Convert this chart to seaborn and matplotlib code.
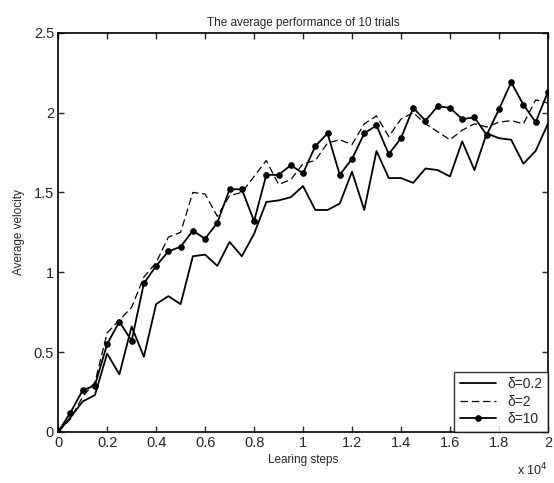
import numpy as np
import pandas as pd
import seaborn as sns
from matplotlib import pyplot as plt

# learning steps in units of 10^4
steps = [0.00, 0.05, 0.10, 0.15, 0.20, 0.25, 0.30, 0.35, 0.40, 0.45,
         0.50, 0.55, 0.60, 0.65, 0.70, 0.75, 0.80, 0.85, 0.90, 0.95,
         1.00, 1.05, 1.10, 1.15, 1.20, 1.25, 1.30, 1.35, 1.40, 1.45,
         1.50, 1.55, 1.60, 1.65, 1.70, 1.75, 1.80, 1.85, 1.90, 1.95, 2.00]

vel_d02 = [0.00, 0.09, 0.19, 0.23, 0.49, 0.36, 0.66, 0.47, 0.80, 0.85,
           0.80, 1.10, 1.11, 1.04, 1.19, 1.10, 1.24, 1.44, 1.45, 1.47,
           1.54, 1.39, 1.39, 1.43, 1.63, 1.39, 1.76, 1.59, 1.59, 1.56,
           1.65, 1.64, 1.60, 1.82, 1.64, 1.87, 1.84, 1.83, 1.68, 1.76, 1.93]

vel_d2 = [0.00, 0.08, 0.22, 0.31, 0.62, 0.70, 0.78, 0.97, 1.06, 1.22,
          1.25, 1.50, 1.49, 1.35, 1.48, 1.50, 1.60, 1.70, 1.55, 1.58,
          1.68, 1.70, 1.81, 1.83, 1.80, 1.93, 1.98, 1.85, 1.96, 2.00,
          1.93, 1.88, 1.83, 1.89, 1.93, 1.91, 1.94, 1.95, 1.93, 2.08, 2.06]

vel_d10 = [0.00, 0.12, 0.26, 0.29, 0.55, 0.69, 0.57, 0.93, 1.04, 1.13,
           1.16, 1.26, 1.21, 1.31, 1.52, 1.52, 1.32, 1.61, 1.61, 1.67,
           1.62, 1.79, 1.87, 1.61, 1.71, 1.87, 1.92, 1.74, 1.84, 2.03,
           1.95, 2.04, 2.03, 1.96, 1.97, 1.86, 2.02, 2.19, 2.05, 1.94, 2.13]

labels = ['δ=0.2', 'δ=2', 'δ=10']

sns.set_style('ticks')
plt.rcParams['font.family'] = ['Liberation Sans', 'DejaVu Sans']

fig = plt.figure(figsize=(5.54, 4.83), dpi=100)
ax = fig.add_axes([0.105, 0.106, 0.884, 0.826])

sns.lineplot(x=steps, y=vel_d02, color='black', linewidth=1.3, label=labels[0], ax=ax)
sns.lineplot(x=steps, y=vel_d2, color='black', linewidth=0.9, label=labels[1], ax=ax,
             linestyle=(0, (6, 3)))
sns.lineplot(x=steps, y=vel_d10, color='black', linewidth=1.3, marker='o', markersize=4,
             markeredgecolor='black', label=labels[2], ax=ax)

ax.set_xlim(0, 2)
ax.set_ylim(0, 2.5)
ax.set_xticks(np.arange(0, 2.01, 0.2))
ax.set_xticklabels(['0', '0.2', '0.4', '0.6', '0.8', '1', '1.2', '1.4', '1.6', '1.8', '2'])
ax.set_yticks([0, 0.5, 1, 1.5, 2, 2.5])
ax.set_yticklabels(['0', '0.5', '1', '1.5', '2', '2.5'])
ax.tick_params(direction='in', length=4, width=1, labelsize=10.5, top=True, right=True, pad=3)
for s in ax.spines.values():
    s.set_linewidth(1.2)
    s.set_color('black')

ax.set_xlabel('Learing steps', fontsize=8.5, labelpad=3)
ax.set_ylabel('Average velocity', fontsize=8.5, labelpad=6)
ax.set_title('The average performance of 10 trials', fontsize=8.5, pad=5)
ax.text(1.0, -0.075, r'x 10$^{4}$', transform=ax.transAxes, ha='right', va='top', fontsize=9)

leg = ax.legend(loc='lower right', fontsize=10, frameon=True, fancybox=False,
                borderaxespad=0, handlelength=2.6, labelspacing=0.25, borderpad=0.4)
leg.get_frame().set_edgecolor('black')
leg.get_frame().set_linewidth(1.0)

plt.savefig('out.png', dpi=100)
